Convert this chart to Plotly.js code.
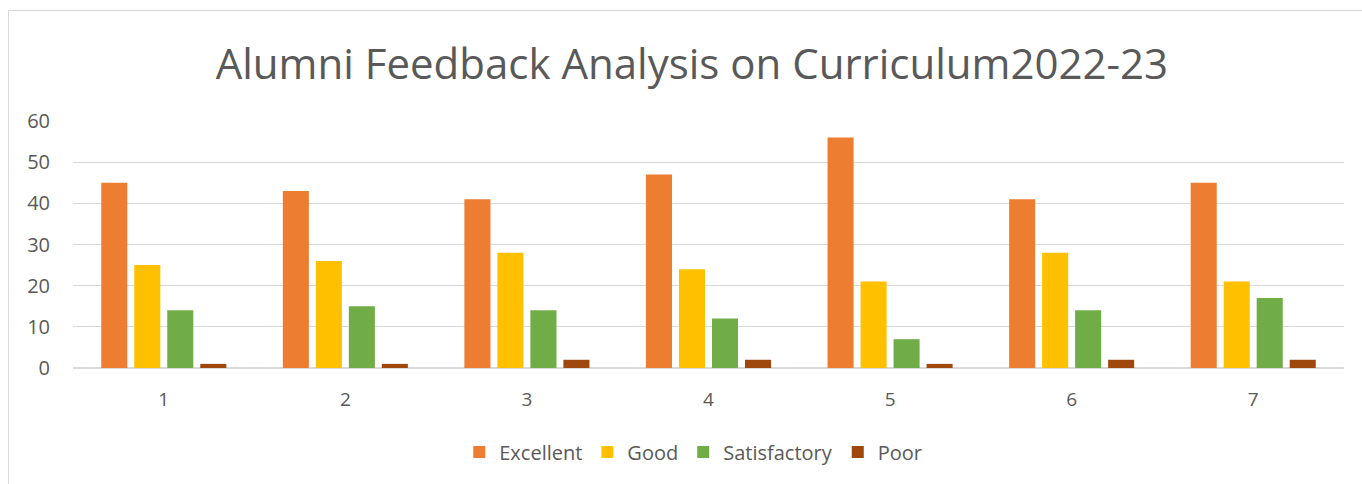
<!DOCTYPE html>
<html><head><meta charset="utf-8">
<script src="https://cdn.plot.ly/plotly-3.0.1.min.js"></script>
<style>
html,body{margin:0;padding:0;background:#fff;overflow:hidden}
#frame{position:absolute;left:8px;top:10px;width:1400px;height:500px;border-top:1px solid #d9d9d9;border-left:1px solid #d9d9d9}
#chart{position:absolute;left:0;top:0;width:1362px;height:484px}
</style></head>
<body>
<div id="frame"></div>
<div id="chart"></div>
<script>
const categories = ["1","2","3","4","5","6","7"];
const excellent = [45,43,41,47,56,41,45];
const good = [25,26,28,24,21,28,21];
const satisfactory = [14,15,14,12,7,14,17];
const poor = [1,1,2,2,1,2,2];
const seriesNames = ["Excellent","Good","Satisfactory","Poor"];
const colors = ["#ed7d31","#ffc000","#70ad47","#9e480e"];
const yTicks = [0,10,20,30,40,50,60];

const data = [excellent, good, satisfactory, poor].map((v,i)=>({
  type:'bar', x:categories, y:v, name:seriesNames[i],
  marker:{color:colors[i]}, hoverinfo:'none'
}));

const layout = {
  width:1362, height:484,
  paper_bgcolor:'rgba(0,0,0,0)', plot_bgcolor:'rgba(0,0,0,0)',
  margin:{l:73, r:18, t:121, b:116},
  barmode:'group', bargap:0.273, bargroupgap:0.21,
  font:{family:'"Open Sans", "Liberation Sans", sans-serif', color:'#595959'},
  title:{text:'Alumni Feedback Analysis on Curriculum2022-23', x:0.508, xanchor:'center', y:0.868, yanchor:'middle',
    font:{size:42, color:'#595959', family:'"Open Sans", sans-serif'}},
  xaxis:{type:'category', showgrid:false, zeroline:false, showline:false, ticks:'',
    tickfont:{size:19, color:'#595959'}, ticklabelstandoff:18},
  yaxis:{range:[0,60], tickvals:yTicks, showgrid:true, gridcolor:'#d9d9d9', gridwidth:1.3,
    zeroline:true, zerolinecolor:'#d9d9d9', zerolinewidth:1.5, showline:false, ticks:'',
    tickfont:{size:20, color:'#595959'}, ticklabelstandoff:22},
  legend:{orientation:'h', x:0.488, xanchor:'center', y:-0.34, yanchor:'middle',
    font:{size:20, color:'#595959'}, itemwidth:30, traceorder:'normal'},
  showlegend:true
};
Plotly.newPlot('chart', data, layout, {displayModeBar:false, staticPlot:true});
</script>
</body></html>
